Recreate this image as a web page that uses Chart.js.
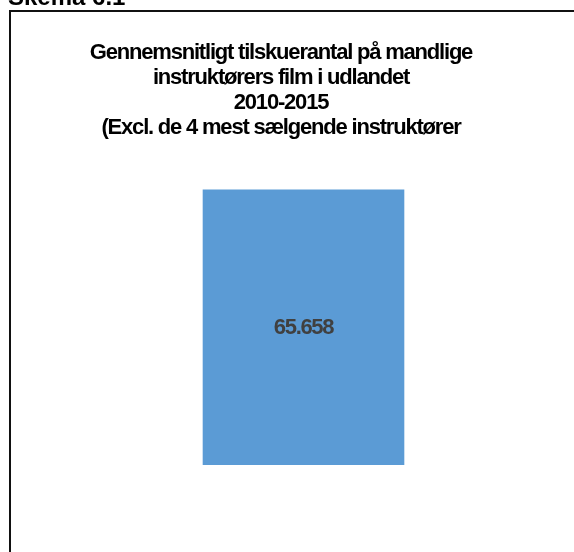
<!DOCTYPE html>
<html lang="da">
<head>
<meta charset="utf-8">
<title>Skema 6.1</title>
<script src="https://cdn.jsdelivr.net/npm/chart.js@4.4.1/dist/chart.umd.min.js"></script>
<style>
    html, body {
        margin: 0;
        padding: 0;
        background: #fff;
        overflow: hidden;
    }
    #wrap {
        position: relative;
        width: 574px;
        height: 552px;
    }
    #skema {
        position: absolute;
        left: 8px;
        top: -15px;
        font: bold 24px 'Liberation Sans', Arial, sans-serif;
        line-height: 24px;
        color: #000;
        white-space: nowrap;
    }
    #ramme {
        position: absolute;
        left: 9px;
        top: 10px;
        width: 620px;
        height: 620px;
        border-left: 2px solid #111;
        border-top: 2px solid #111;
        pointer-events: none;
    }
    #grafik {
        position: absolute;
        left: 0;
        top: 0;
    }
</style>
</head>
<body>
<div id="wrap">
    <canvas id="grafik" width="574" height="552"></canvas>
    <div id="skema">Skema 6.1</div>
    <div id="ramme"></div>
</div>
<script>
// Data
const kategorier = ['Mandlige instruktører'];
const gennemsnit = [65658];
const titelLinjer = [
    'Gennemsnitligt tilskuerantal på mandlige',
    'instruktørers film i udlandet',
    '2010-2015',
    '(Excl. de 4 mest sælgende instruktører'
];

function formaterTal(v) {
    // dansk tusindtalsseparator
    return Math.round(v).toString().replace(/\B(?=(\d{3})+(?!\d))/g, '.');
}

// Tætte bogstaver som i originalen
const tætTekst = {
    id: 'taetTekst',
    beforeDraw(chart) {
        chart.ctx.letterSpacing = '-1.2px';
    }
};

// Værdien midt i søjlen
const værdiEtiket = {
    id: 'vaerdiEtiket',
    afterDatasetsDraw(chart) {
        const ctx = chart.ctx;
        const meta = chart.getDatasetMeta(0);
        ctx.save();
        ctx.letterSpacing = '-1.3px';
        ctx.font = 'bold 22px "Liberation Sans", Arial, sans-serif';
        ctx.fillStyle = '#404040';
        ctx.textAlign = 'center';
        ctx.textBaseline = 'middle';
        meta.data.forEach((bar, i) => {
            const y = (bar.y + bar.base) / 2;
            ctx.fillText(formaterTal(gennemsnit[i]), bar.x, y + 1);
        });
        ctx.restore();
    }
};

new Chart(document.getElementById('grafik'), {
    type: 'bar',
    data: {
        labels: kategorier,
        datasets: [{
            data: gennemsnit,
            backgroundColor: '#5b9bd5',
            borderWidth: 0,
            categoryPercentage: 1,
            barPercentage: 0.39
        }]
    },
    options: {
        responsive: false,
        animation: false,
        layout: {
            padding: { left: 0, right: 12, top: 0, bottom: 87 }
        },
        plugins: {
            legend: { display: false },
            tooltip: { enabled: false },
            title: {
                display: true,
                text: titelLinjer,
                color: '#000',
                font: { family: "'Liberation Sans', Arial, sans-serif", size: 22, weight: 'bold', lineHeight: 1.13 },
                padding: { top: 41, bottom: 10 }
            }
        },
        scales: {
            x: {
                display: false
            },
            y: {
                min: 0,
                max: 75000,
                ticks: { display: false },
                grid: { display: false },
                border: { display: false },
                afterFit(scale) {
                    scale.width = 45;
                }
            }
        }
    },
    plugins: [tætTekst, værdiEtiket]
});
</script>
</body>
</html>
